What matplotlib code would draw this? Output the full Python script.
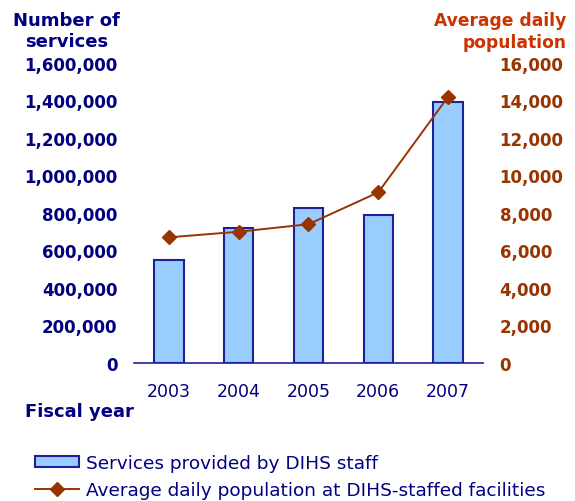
import matplotlib
matplotlib.use("Agg")
import matplotlib.pyplot as plt
from matplotlib.ticker import FuncFormatter, MultipleLocator

years = ["2003", "2004", "2005", "2006", "2007"]
services = [550000, 720000, 825000, 790000, 1390000]
population = [6700, 7000, 7400, 9100, 14200]

navy = "#000080"
brown = "#993300"
title_red = "#CC3300"
bar_face = "#99CCFF"
bar_edge = "#1F1F99"

plt.rcParams["font.family"] = ["DejaVu Sans"]

fig = plt.figure(figsize=(5.75, 5.02), dpi=100)
ax = fig.add_axes([0.233, 0.275, 0.607, 0.5975])
x = list(range(len(years)))
bars = ax.bar(x, services, width=0.42, color=bar_face, edgecolor=bar_edge,
              linewidth=1.5, label="Services provided by DIHS staff", zorder=2)
ax.set_xlim(-0.5, 4.5)
ax.set_ylim(0, 1600000)
ax.yaxis.set_major_locator(MultipleLocator(200000))
ax.yaxis.set_major_formatter(FuncFormatter(lambda v, p: f"{int(v):,}"))
ax.set_xticks(x)
ax.set_xticklabels(years)
for s in ["top", "right", "left"]:
    ax.spines[s].set_visible(False)
ax.spines["bottom"].set_color(bar_edge)
ax.spines["bottom"].set_linewidth(1.2)
ax.tick_params(axis="y", length=0, pad=12, labelcolor=navy, labelsize=12)
ax.tick_params(axis="x", length=0, pad=14, labelcolor=navy, labelsize=12.5)
for lab in ax.get_yticklabels():
    lab.set_fontweight("bold")

ax2 = ax.twinx()
line, = ax2.plot(x, population, color=brown, marker="D", markersize=7,
                 linewidth=1.4, label="Average daily population at DIHS-staffed facilities", zorder=3)
ax2.set_ylim(0, 16000)
ax2.yaxis.set_major_locator(MultipleLocator(2000))
ax2.yaxis.set_major_formatter(FuncFormatter(lambda v, p: f"{int(v):,}"))
for s in ["top", "right", "left", "bottom"]:
    ax2.spines[s].set_visible(False)
ax2.tick_params(axis="y", length=0, pad=12, labelcolor=brown, labelsize=12)
for lab in ax2.get_yticklabels():
    lab.set_fontweight("bold")

fig.text(0.116, 0.976, "Number of\nservices", ha="center", va="top", color=navy,
         fontsize=13, fontweight="bold", linespacing=1.2, multialignment="center")
fig.text(0.985, 0.976, "Average daily\npopulation", ha="right", va="top", color=title_red,
         fontsize=12.3, fontweight="bold", linespacing=1.27, multialignment="right")
fig.text(0.043, 0.18, "Fiscal year", ha="left", va="center", color=navy,
         fontsize=13, fontweight="bold")

fig.legend([bars, line], [bars.get_label(), line.get_label()], loc="lower left",
           bbox_to_anchor=(0.061, 0.004), frameon=False, fontsize=13.3,
           labelcolor=navy, handlelength=2.4, handleheight=0.55, handletextpad=0.38,
           borderaxespad=0.0, borderpad=0.0, labelspacing=0.5)

fig.savefig("out.png", dpi=100)
